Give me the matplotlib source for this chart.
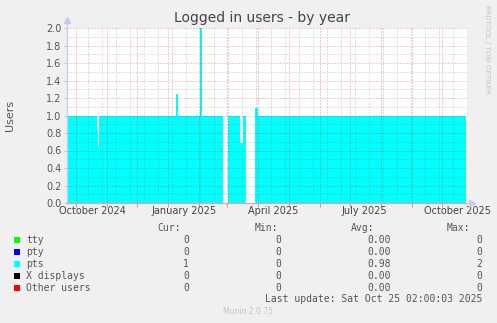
import datetime as dt

import matplotlib

matplotlib.use("Agg")
import matplotlib.pyplot as plt

# pts series as step breakpoints (date the value starts, value)
pts_dates = [
    "2024-09-22", "2024-10-22", "2024-10-23", "2024-10-24",
    "2025-01-09", "2025-01-11", "2025-02-02", "2025-02-04",
    "2025-02-25", "2025-03-02", "2025-03-14", "2025-03-17",
    "2025-03-20", "2025-03-29", "2025-04-01", "2025-10-25",
]
pts_values = [
    1.0, 0.82, 0.64, 1.0,
    1.25, 1.0, 2.0, 1.0,
    0.0, 1.0, 0.69, 1.0,
    0.0, 1.09, 1.0, 1.0,
]

# legend table
series_names = ["tty", "pty", "pts", "X displays", "Other users"]
series_colors = ["#00FF00", "#0000FF", "#00FFFF", "#000000", "#FF0000"]
cur_values = ["0", "0", "1", "0", "0"]
min_values = ["0", "0", "0", "0", "0"]
avg_values = ["0.00", "0.00", "0.98", "0.00", "0.00"]
max_values = ["0", "0", "2", "0", "0"]

# x axis labels
label_dates = ["2024-10-17", "2025-01-17", "2025-04-16", "2025-07-16", "2025-10-17"]
label_texts = ["October 2024", "January 2025", "April 2025", "July 2025", "October 2025"]

W, H = 497, 323


def px(x, y):
    """pixel coordinates -> figure fraction"""
    return x / W, 1 - y / H


def to_date(s):
    return dt.datetime.strptime(s, "%Y-%m-%d")


fig = plt.figure(figsize=(W / 100, H / 100), dpi=100, facecolor="#F0F0F0")
left, top = px(67, 28)
right, bottom = px(467, 203)
ax = fig.add_axes([left, bottom, right - left, top - bottom])
ax.set_facecolor("white")

x = [to_date(d) for d in pts_dates]
ax.fill_between(x, pts_values, step="post", color="#00FFFF", linewidth=0, zorder=1)

x_start = dt.datetime(2024, 9, 22)
x_end = dt.datetime(2025, 10, 26)
ax.set_xlim(x_start, x_end)
ax.set_ylim(0, 2.0)

# grid: red dotted major, gray dotted minor
red = (0.82, 0.2, 0.2, 0.5)
grey = (0.5, 0.5, 0.5, 0.5)
dots = (0, (1, 2))
for i in range(21):
    v = i / 10
    ax.axhline(v, color=red if i % 2 == 0 else grey, lw=0.72, ls=dots, zorder=2)

month_starts = []
y0, m0 = 2024, 10
while dt.datetime(y0, m0, 1) <= x_end:
    month_starts.append(dt.datetime(y0, m0, 1))
    m0 += 1
    if m0 > 12:
        y0, m0 = y0 + 1, 1
d = dt.datetime(2024, 10, 13)
while d < x_end:
    ax.axvline(d, color=grey, lw=0.72, ls=dots, zorder=2)
    d += dt.timedelta(days=14)
for m in month_starts:
    ax.axvline(m, color=red, lw=0.72, ls=dots, zorder=2)

for s in ax.spines.values():
    s.set_visible(False)

# axis lines with arrows
axis_col = "#C8C8F0"
ax.plot([0, 0], [0, 1.03], transform=ax.transAxes, color=axis_col, lw=0.9,
        clip_on=False, zorder=3)
ax.plot([0, 1.0], [0, 0], transform=ax.transAxes, color="#E8A0A0", lw=0.9,
        clip_on=False, zorder=3)
ax.plot([0], [1.045], marker="^", ms=4, color=axis_col, transform=ax.transAxes,
        clip_on=False)
ax.plot([1.012], [0], marker=">", ms=4, color=axis_col, transform=ax.transAxes,
        clip_on=False)

# ticks
ax.set_yticks([i / 5 for i in range(11)])
ax.set_yticklabels([f"{i / 5:.1f}" for i in range(11)])
ax.tick_params(axis="y", length=2, width=0.6, color="#C0C0C0", pad=2,
               labelsize=7, labelcolor="#555555")
ax.set_xticks(month_starts)
ax.set_xticklabels([])
ax.tick_params(axis="x", which="major", length=3, width=0.6, color="#E08080")
ax.set_xticks([to_date(d) for d in label_dates], minor=True)
ax.set_xticklabels(label_texts, minor=True)
ax.tick_params(axis="x", which="minor", length=0, pad=2, labelsize=7,
               labelcolor="#444444")

# texts
fig.text(*px(262, 18), "Logged in users - by year", ha="center", va="center",
         fontsize=10, color="#444444")
fig.text(*px(10, 115), "Users", ha="center", va="center", rotation=90,
         fontsize=8, color="#555555")
fig.text(*px(487, 5), "RRDTOOL / TOBI OETIKER", ha="center", va="top",
         rotation=270, fontsize=5, color="#C4C4C4")

mono = "DejaVu Sans Mono"
tcol = "#555555"
header_y = 228
fig.text(*px(181, header_y), "Cur:", ha="right", va="center", family=mono, fontsize=7, color=tcol)
fig.text(*px(278, header_y), "Min:", ha="right", va="center", family=mono, fontsize=7, color=tcol)
fig.text(*px(374, header_y), "Avg:", ha="right", va="center", family=mono, fontsize=7, color=tcol)
fig.text(*px(470, header_y), "Max:", ha="right", va="center", family=mono, fontsize=7, color=tcol)

for i, name in enumerate(series_names):
    yy = 240 + 12 * i
    sx, sy = px(14, yy + 3)
    fig.patches.append(plt.Rectangle((sx, sy), 6 / W, 6 / H, transform=fig.transFigure,
                                     facecolor=series_colors[i], edgecolor="none"))
    fig.text(*px(26, yy), name, ha="left", va="center", family=mono, fontsize=7, color=tcol)
    fig.text(*px(189, yy), cur_values[i], ha="right", va="center", family=mono, fontsize=7, color=tcol)
    fig.text(*px(281, yy), min_values[i], ha="right", va="center", family=mono, fontsize=7, color=tcol)
    fig.text(*px(391, yy), avg_values[i], ha="right", va="center", family=mono, fontsize=7, color=tcol)
    fig.text(*px(482, yy), max_values[i], ha="right", va="center", family=mono, fontsize=7, color=tcol)

fig.text(*px(482, 299), "Last update: Sat Oct 25 02:00:03 2025", ha="right", va="center",
         family=mono, fontsize=7, color=tcol)
fig.text(*px(248, 312), "Munin 2.0.75", ha="center", va="center", fontsize=5.5,
         color="#C4C4C4")

fig.savefig("out.png", dpi=100, facecolor=fig.get_facecolor())
